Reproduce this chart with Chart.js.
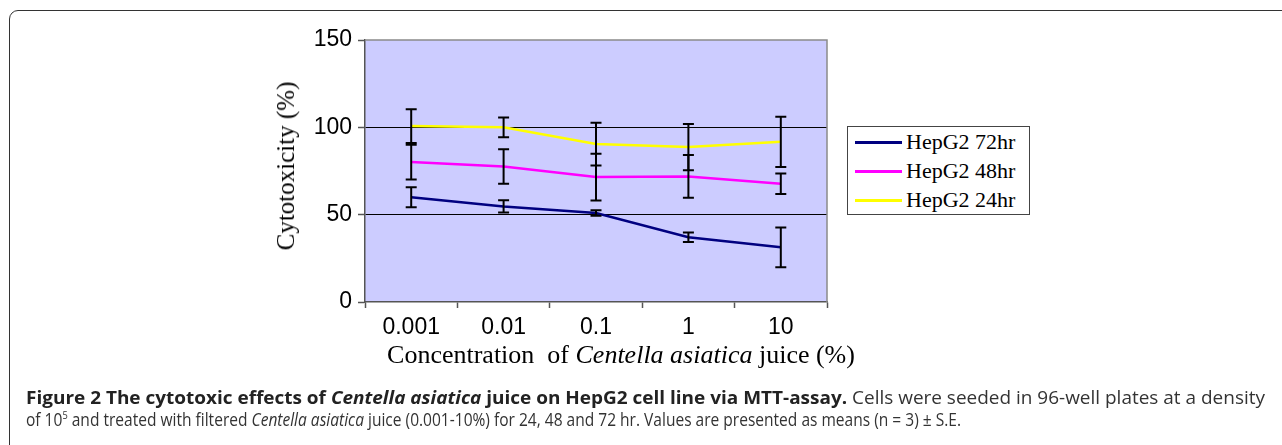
<!DOCTYPE html>
<html>
<head>
<meta charset="utf-8">
<script src="https://cdn.jsdelivr.net/npm/chart.js@4"></script>
<style>
  html, body { margin:0; padding:0; background:#fff; }
  body { width:1282px; height:445px; position:relative; overflow:hidden; }
  #frame { position:absolute; left:9px; top:10px; width:1320px; height:520px; border:1.6px solid #333; border-radius:9px; box-sizing:border-box; }
  #wrap { position:absolute; left:0; top:0; width:1282px; height:445px; }
  #legend { position:absolute; left:847px; top:126px; width:183px; height:89px; border:1.5px solid #444; box-sizing:border-box; background:#fff; font-family:"Liberation Serif","Times New Roman",serif; font-size:22px; color:#000; }
  .row { position:absolute; left:0; height:26px; line-height:26px; }
  .row .sw { position:absolute; left:7px; top:12px; width:47px; height:2.5px; }
  .row .tx { position:absolute; left:58px; top:0; white-space:nowrap; }
  #ytitle { position:absolute; left:286px; top:166px; transform:translate(-50%,-50%) rotate(-90deg); font-family:"Liberation Serif","Times New Roman",serif; font-size:25px; white-space:nowrap; color:#000; }
  #xtitle { position:absolute; left:621px; top:355px; transform:translate(-50%,-50%); font-family:"Liberation Serif","Times New Roman",serif; font-size:26px; white-space:nowrap; color:#000; }
  .cap { position:absolute; left:26px; font-family:"Open Sans","Noto Sans",sans-serif; font-size:18.5px; color:#333; white-space:nowrap; transform-origin:0 50%; }
  .cap b { color:#222; }
</style>
</head>
<body>
<div id="frame"></div>
<div id="wrap"><canvas id="c" width="1282" height="445"></canvas></div>
<div id="legend"></div>
<div id="ytitle">Cytotoxicity (%)</div>
<div id="xtitle">Concentration&nbsp; of <i>Centella asiatica</i> juice (%)</div>
<div class="cap" id="cap1" style="top:384px;"><b>Figure 2 The cytotoxic effects of <i>Centella asiatica</i> juice on HepG2 cell line via MTT-assay.</b> Cells were seeded in 96-well plates at a density</div>
<div class="cap" id="cap2" style="top:406px;">of 10<sup style="font-size:11px;">5</sup> and treated with filtered <i>Centella asiatica</i> juice (0.001-10%) for 24, 48 and 72 hr. Values are presented as means (n = 3) ± S.E.</div>
<script>
// ---- data ----
const categories = ['0.001', '0.01', '0.1', '1', '10'];
const seriesNames = ['HepG2 72hr', 'HepG2 48hr', 'HepG2 24hr'];
const hr72 = [60, 54.7, 51, 37.1, 31.3];
const err72 = [5.7, 3.5, 1.6, 2.7, 11.4];
const hr48 = [80.1, 77.6, 71.5, 71.9, 67.7];
const err48 = [10, 9.9, 13.4, 12.2, 5.8];
const hr24 = [100.7, 100, 90.4, 88.7, 91.7];
const err24 = [9.6, 5.7, 12.2, 13.2, 14.4];
const yTicks = [0, 50, 100, 150];
const colors = ['#000080', '#FF00FF', '#FFFF00'];

// caption fitting
function fit(id, w) {
  const el = document.getElementById(id);
  const r = el.getBoundingClientRect().width;
  el.style.transform = 'scaleX(' + (w / r) + ')';
}
fit('cap1', 1239);
fit('cap2', 935);

const bgPlugin = {
  id: 'bg',
  beforeDraw(chart) {
    const a = chart.chartArea, ctx = chart.ctx;
    ctx.save();
    ctx.fillStyle = '#CCCCFF';
    ctx.fillRect(a.left, a.top, a.right - a.left, a.bottom - a.top);
    ctx.restore();
  },
  afterDraw(chart) {
    const a = chart.chartArea, ctx = chart.ctx;
    ctx.save();
    ctx.strokeStyle = '#8a8a8a';
    ctx.lineWidth = 1.5;
    ctx.beginPath();
    ctx.moveTo(a.left, a.top); ctx.lineTo(a.right, a.top); ctx.lineTo(a.right, a.bottom);
    ctx.stroke();
    ctx.restore();
  }
};

const errPlugin = {
  id: 'errbars',
  afterDatasetsDraw(chart) {
    const ctx = chart.ctx, xs = chart.scales.x, ys = chart.scales.y;
    ctx.save();
    ctx.strokeStyle = '#000';
    ctx.lineWidth = 2;
    chart.data.datasets.forEach(ds => {
      ds.data.forEach((v, i) => {
        const e = ds.errors[i];
        const x = xs.getPixelForValue(i);
        const y1 = ys.getPixelForValue(v + e), y2 = ys.getPixelForValue(v - e);
        ctx.beginPath();
        ctx.moveTo(x, y1); ctx.lineTo(x, y2);
        ctx.moveTo(x - 5.5, y1); ctx.lineTo(x + 5.5, y1);
        ctx.moveTo(x - 5.5, y2); ctx.lineTo(x + 5.5, y2);
        ctx.stroke();
      });
    });
    ctx.restore();
  }
};

const values = [hr72, hr48, hr24];
const errs = [err72, err48, err24];
const chart = new Chart(document.getElementById('c'), {
  type: 'line',
  data: {
    labels: categories,
    datasets: seriesNames.map((n, k) => ({
      label: n, data: values[k], errors: errs[k],
      borderColor: colors[k], backgroundColor: colors[k],
      borderWidth: 2.5, pointRadius: 0, tension: 0, fill: false
    }))
  },
  options: {
    responsive: false, animation: false,
    layout: { padding: { top: 40, right: 455, left: 0, bottom: 0 } },
    plugins: { legend: { display: false }, tooltip: { enabled: false } },
    scales: {
      x: {
        type: 'category', offset: true,
        grid: { offset: true, drawOnChartArea: false, drawTicks: true, tickLength: 6, tickColor: '#555', tickWidth: 1.5 },
        border: { color: '#555', width: 1.5 },
        ticks: { color: '#000', font: { family: 'Liberation Sans, Arial, sans-serif', size: 23 }, padding: 6, maxRotation: 0 },
        afterFit(s) { s.height = 143; }
      },
      y: {
        min: 0, max: 150,
        afterBuildTicks(s) { s.ticks = yTicks.map(v => ({ value: v })); },
        grid: {
          drawTicks: true, tickLength: 7, tickWidth: 1.5,
          tickColor: '#555',
          color: c => (c.tick && (c.tick.value === 50 || c.tick.value === 100)) ? '#000' : 'rgba(0,0,0,0)',
          lineWidth: 1
        },
        border: { color: '#555', width: 1.5 },
        ticks: { color: '#000', font: { family: 'Liberation Sans, Arial, sans-serif', size: 23 }, padding: 6 },
        afterFit(s) { s.width = 365; }
      }
    }
  },
  plugins: [bgPlugin, errPlugin]
});

// legend built from chart datasets
const leg = document.getElementById('legend');
const rowsY = [2, 31, 60];
chart.data.datasets.forEach((ds, k) => {
  const r = document.createElement('div');
  r.className = 'row';
  r.style.top = rowsY[k] + 'px';
  r.innerHTML = '<div class="sw" style="background:' + ds.borderColor + '"></div><div class="tx">' + ds.label + '</div>';
  leg.appendChild(r);
});
</script>
</body>
</html>
